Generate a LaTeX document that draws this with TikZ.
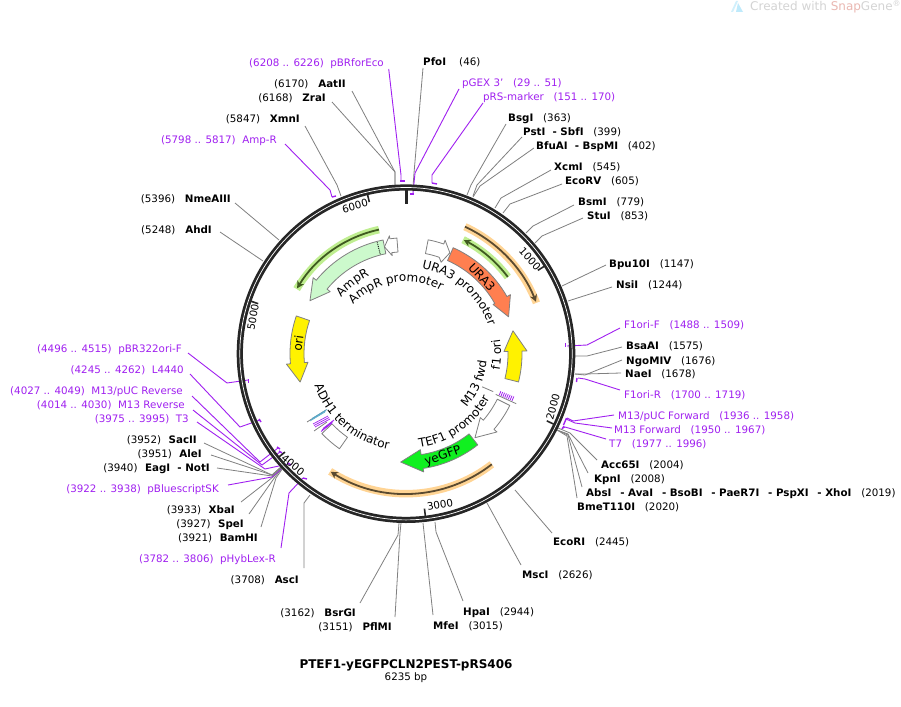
\documentclass[tikz,border=0pt]{standalone}
\usepackage{fontspec}
\setmainfont{DejaVu Sans}
\usetikzlibrary{decorations.text,arrows.meta}
\definecolor{pl}{HTML}{A020F0}
\definecolor{gl}{HTML}{808080}
\definecolor{ringc}{HTML}{262626}
\definecolor{uracol}{HTML}{FF7F50}
\definecolor{ampcol}{HTML}{CCF9CC}
\definecolor{gfpcol}{HTML}{10F020}
\definecolor{halog}{HTML}{BFEE90}
\definecolor{haloo}{HTML}{FFD494}
\definecolor{coreo}{HTML}{5A4A30}
\definecolor{coreg}{HTML}{3F5A20}
\definecolor{wmgray}{HTML}{D4D4D4}
\definecolor{wmred}{HTML}{EAB8B2}
\def\lfont{\fontsize{10.3}{12}\selectfont}
\def\ctext{\fontsize{12}{14}\selectfont}
\tikzset{x=1pt,y=1pt,
 lb/.style={inner sep=0pt,text height=9.6pt,text depth=0.4pt,font=\lfont},
 rl/.style={lb,anchor=west},
 ll/.style={lb,anchor=east},
 pt/.style={text=pl},
 gline/.style={draw=gl,line width=0.8pt},
 pline/.style={draw=pl,line width=0.9pt},
 ptick/.style={draw=pl,line width=1.4pt},
 feat/.style={draw=gl,line width=0.8pt,line join=round},
 tk/.style={draw=ringc,line width=1.6pt},
 num/.style={inner sep=0pt,font=\lfont},
 halo/.style={line width=7.5pt},
 core/.style={line width=1.8pt,-{Stealth[length=7pt,width=7.5pt]}},
}
% right-hand and left-hand labels
\newcommand{\rlab}[4]{\node[rl] (#1) at (#2,-#3) {\textbf{#1}#4};}
\newcommand{\rnam}[5]{\node[rl] (#1) at (#2,-#3) {\textbf{#4}#5};}
\newcommand{\llab}[4]{\node[ll] (#1) at (#2,-#3) {#4\textbf{#1}};}
\newcommand{\lnam}[5]{\node[ll] (#1) at (#2,-#3) {#5\textbf{#4}};}
\newcommand{\prl}[4]{\node[rl,pt] (#1) at (#2,-#3) {#4};}
\newcommand{\pll}[4]{\node[ll,pt] (#1) at (#2,-#3) {#4};}
\newcommand{\conn}[5]{\coordinate (#2-a) at #3;\coordinate (#2-b) at #4;\coordinate (#2-c) at #5;
  \draw[#1] (#2-a) -- (#2-b) -- (#2-c);}
\newcommand{\connb}[4]{\coordinate (#2-a) at #3;\coordinate (#2-c) at #4;
  \draw[#1] (#2-a) -- (#2-c);}
\newcommand{\curved}[4]{\path[decorate,decoration={text along path,text align=center,text={|\ctext|#4}}] (#2:#1) arc[start angle=#2,end angle=#3,radius=#1];}
\begin{document}
\begin{tikzpicture}
\useasboundingbox (0,0) rectangle (901,-706);
\fill[white] (0,0) rectangle (901,-706);
% watermark
\fill[cyan!18] (731,-12) -- (736,-1) -- (738,-1) -- (733,-12) -- cycle;
\fill[cyan!25] (736,-12) -- (738,-3) -- (743,-12) -- cycle;
\node[inner sep=0pt,anchor=west,font=\fontsize{12}{14}\selectfont,text=wmgray] (wm) at (750,-7) {Created with \textcolor{wmred}{Snap}Gene\textsuperscript{®}};
% leaders and labels, clockwise from the top
\rlab{PfoI}{423}{61}{\ \ \ \ (46)}
\conn{gline}{PfoI}{(423,-68)}{(414,-173)}{(413,-187)}
\prl{pGEX}{462}{82}{pGEX 3'\ \ \ (29 .. 51)}
\conn{pline}{pGEX}{(459,-89)}{(415,-173)}{(413,-193)}
\draw[ptick] (410,-194) -- (414,-194);
\prl{pRS}{483}{96}{pRS-marker\ \ \ (151 .. 170)}
\conn{pline}{pRS}{(483,-103)}{(432,-175)}{(432,-183)}
\draw[ptick] (432,-183) -- (437,-184);
\rlab{BsgI}{508}{117}{\ \ \ (363)}
\conn{gline}{BsgI}{(506,-124)}{(471,-185)}{(467,-195)}
\rnam{PstI}{523}{131}{PstI\ \ - SbfI}{\ \ \ (399)}
\conn{gline}{PstI}{(522,-137)}{(477,-185)}{(473,-196)}
\rnam{BfuAI}{536}{145}{BfuAI\ \ - BspMI}{\ \ \ (402)}
\conn{gline}{BfuAI}{(534,-148)}{(480,-186)}{(473,-197)}
\rlab{XcmI}{554}{166}{\ \ \ (545)}
\conn{gline}{XcmI}{(551,-170)}{(501,-198)}{(495,-208)}
\rlab{EcoRV}{565}{180}{\ \ \ (605)}
\conn{gline}{EcoRV}{(562,-184)}{(510,-204)}{(503,-213)}
\rlab{BsmI}{578}{201}{\ \ \ (779)}
\conn{gline}{BsmI}{(574,-205)}{(533,-226)}{(526,-233)}
\rlab{StuI}{587}{215}{\ \ \ (853)}
\conn{gline}{StuI}{(583,-218)}{(542,-236)}{(535,-243)}
\rlab{Bpu10I}{609}{263}{\ \ \ (1147)}
\connb{gline}{Bpu10I}{(606,-265)}{(562,-286)}
\rlab{NsiI}{616}{284}{\ \ \ (1244)}
\connb{gline}{NsiI}{(612,-287)}{(568,-301)}
\prl{F1oriF}{624}{324}{F1ori-F\ \ \ (1488 .. 1509)}
\conn{pline}{F1oriF}{(620,-328)}{(587,-345)}{(567,-346)}
\draw[ptick] (565.5,-343) -- (565.5,-346.5);
\rlab{BsaAI}{626}{345}{\ \ \ (1575)}
\conn{gline}{BsaAI}{(622,-347)}{(587,-356)}{(575,-356)}
\rlab{NgoMIV}{626}{360}{\ \ \ (1676)}
\conn{gline}{NgoMIV}{(622,-360)}{(585,-375)}{(575,-374)}
\rlab{NaeI}{625}{373}{\ \ \ (1678)}
\conn{gline}{NaeI}{(621,-373)}{(585,-374)}{(575,-374)}
\prl{F1oriR}{624}{394}{F1ori-R\ \ \ (1700 .. 1719)}
\conn{pline}{F1oriR}{(620,-390)}{(585,-379)}{(578,-378)}
\draw[ptick] (577,-378) -- (576.5,-382);
\prl{M13pF}{618}{415}{M13/pUC Forward\ \ \ (1936 .. 1958)}
\conn{pline}{M13pF}{(614,-415)}{(573,-421)}{(567,-418)}
\prl{M13F}{614}{429}{M13 Forward\ \ \ (1950 .. 1967)}
\conn{pline}{M13F}{(612,-428)}{(575,-423)}{(566,-419)}
\draw[ptick] (566.5,-418) -- (563.5,-425);
\prl{T7}{609}{443}{T7\ \ \ (1977 .. 1996)}
\conn{pline}{T7}{(606,-439)}{(565,-427)}{(563,-428)}
\draw[ptick] (564,-426) -- (562,-429);
\rlab{Acc65I}{601}{464}{\ \ \ (2004)}
\conn{gline}{Acc65I}{(597,-460)}{(570,-433)}{(558,-428)}
\rlab{KpnI}{594}{478}{\ \ \ (2008)}
\conn{gline}{KpnI}{(588,-473)}{(568,-434)}{(557,-430)}
\rnam{AbsI}{586}{492}{AbsI\ \ \hspace{1.6pt}- AvaI\ \ \hspace{1.6pt}- BsoBI\ \ \hspace{1.6pt}- PaeR7I\ \ \hspace{1.6pt}- PspXI\ \ \hspace{1.6pt}- XhoI}{\ \ \ (2019)}
\conn{gline}{AbsI}{(582,-487)}{(568,-435)}{(557,-430)}
\rlab{BmeT110I}{577}{506}{\ \ \ (2020)}
\conn{gline}{BmeT110I}{(577,-498)}{(567,-436)}{(557,-430)}
\rlab{EcoRI}{553}{541}{\ \ \ (2445)}
\connb{gline}{EcoRI}{(552,-533)}{(515,-490)}
\rlab{MscI}{522}{574}{\ \ \ (2626)}
\connb{gline}{MscI}{(521,-565)}{(487,-503)}
\rlab{HpaI}{463}{611}{\ \ \ (2944)}
\conn{gline}{HpaI}{(463,-601)}{(436,-532)}{(435,-522)}
\rlab{MfeI}{433}{625}{\ \ \ (3015)}
\connb{gline}{MfeI}{(433,-615)}{(423,-523)}
\llab{PflMI}{392}{626}{(3151)\ \ \ }
\conn{gline}{PflMI}{(395,-617)}{(400,-533)}{(401,-523)}
\llab{BsrGI}{356}{612}{(3162)\ \ \ }
\conn{gline}{BsrGI}{(360,-603)}{(398,-535)}{(399,-523)}
\llab{AscI}{299}{579}{(3708)\ \ \ }
\conn{gline}{AscI}{(304,-568)}{(304,-503)}{(310,-495)}
\pll{pHyb}{276}{558}{(3782 .. 3806)\ \ pHybLex-R}
\conn{pline}{pHyb}{(281,-548)}{(289,-493)}{(303,-478)}
\draw[ptick] (303,-478) -- (307,-479);
\llab{BamHI}{258}{537}{(3921)\ \ \hspace{1pt}}
\conn{gline}{BamHI}{(261,-527)}{(276,-478)}{(283,-468)}
\llab{SpeI}{244}{523}{(3927)\ \ \hspace{1pt}}
\conn{gline}{SpeI}{(249,-514)}{(275,-477)}{(282,-468)}
\llab{XbaI}{235}{509}{(3933)\ \ \hspace{1pt}}
\conn{gline}{XbaI}{(241,-502)}{(273,-477)}{(282,-468)}
\pll{pBS}{219}{488}{(3922 .. 3938)\ \ pBluescriptSK}
\conn{pline}{pBS}{(228,-485)}{(272,-477)}{(281,-469)}
\lnam{EagI}{210}{467}{EagI\ \ - NotI}{(3940)\ \ \hspace{1pt}}
\conn{gline}{EagI}{(217,-468)}{(272,-476)}{(281,-468)}
\llab{AleI}{202}{453}{(3951)\ \ \hspace{1pt}}
\conn{gline}{AleI}{(211,-455)}{(272,-475)}{(281,-467)}
\llab{SacII}{197}{439}{(3952)\ \ \hspace{1pt}}
\conn{gline}{SacII}{(204,-443)}{(272,-475)}{(281,-467)}
\pll{T3}{189}{418}{(3975 .. 3995)\ \ T3}
\conn{pline}{T3}{(197,-422)}{(265,-469)}{(288,-464)}
\draw[ptick] (288,-463) -- (291,-465);
\pll{M13R}{185}{404}{(4014 .. 4030)\ \ M13 Reverse}
\conn{pline}{M13R}{(193,-410)}{(262,-465)}{(280,-452)}
\draw[ptick] (279,-451) -- (282,-453);
\pll{M13pR}{183}{390}{(4027 .. 4049)\ \ M13/pUC Reverse}
\conn{pline}{M13pR}{(192,-396)}{(260,-462)}{(278,-448)}
\draw[ptick] (277,-447) -- (280,-449);
\pll{L4440}{184}{369}{(4245 .. 4262)\ \ L4440}
\conn{pline}{L4440}{(190,-374)}{(240,-427)}{(260,-420)}
\draw[ptick] (259,-419) -- (261,-422);
\pll{pBR}{182}{348}{(4496 .. 4515)\ \ pBR322ori-F}
\conn{pline}{pBR}{(188,-353)}{(227,-383)}{(248,-380)}
\draw[ptick] (248.5,-379) -- (248.5,-383);
\llab{AhdI}{212}{229}{(5248)\ \ \ }
\connb{gline}{AhdI}{(220,-232)}{(263,-261)}
\llab{NmeAIII}{231}{198}{(5396)\ \ \ }
\connb{gline}{NmeAIII}{(235,-203)}{(279,-240)}
\pll{AmpRp}{277}{139}{(5798 .. 5817)\ \ Amp-R}
\conn{pline}{AmpRp}{(285,-144)}{(330,-190)}{(332,-197)}
\draw[ptick] (332,-197) -- (336,-196);
\llab{XmnI}{300}{118}{(5847)\ \ \ }
\conn{gline}{XmnI}{(305,-126)}{(337,-185)}{(341,-196)}
\llab{ZraI}{326}{97}{(6168)\ \ \ }
\conn{gline}{ZraI}{(332,-102)}{(395,-172)}{(395,-185)}
\llab{AatII}{346}{83}{(6170)\ \ \ }
\conn{gline}{AatII}{(352,-91)}{(395,-172)}{(395,-185)}
\pll{pBRf}{384}{62}{(6208 .. 6226)\ \ pBRforEco}
\conn{pline}{pBRf}{(388.7,-69)}{(401,-175)}{(401,-181)}
\draw[ptick] (400,-181) -- (405,-181);
% everything on the circle
\begin{scope}[shift={(406,-353.7)}]
 \draw[ringc,line width=6.2pt] (0,0) circle[radius=166.2];
 \draw[white,line width=0.7pt] (0,0) circle[radius=166.2];
 \draw[ringc,line width=3pt] (90:164) -- (90:150);
 \foreach \a in {32.3,-25.5,-83.2,-140.9,-198.7,-256.4}{\draw[tk] (\a:164) -- (\a:156);}
 % orange and green strands
 \draw[haloo,halo] (65.1:140) arc[start angle=65.1,end angle=21.3,radius=140];
 \draw[coreo,core] (65.1:140) arc[start angle=65.1,end angle=21.8,radius=140];
 \draw[halog,halo] (37:127.5) arc[start angle=37,end angle=63.4,radius=127.5];
 \draw[coreg,core] (37:127.5) arc[start angle=37,end angle=63,radius=127.5];
 \draw[haloo,halo] (-52.2:140) arc[start angle=-52.2,end angle=-122.8,radius=140];
 \draw[coreo,core] (-52.2:140) arc[start angle=-52.2,end angle=-122.5,radius=140];
 \draw[halog,halo] (102.3:127) arc[start angle=102.3,end angle=149.4,radius=127];
 \draw[coreg,core] (102.3:127) arc[start angle=102.3,end angle=149,radius=127];
 % URA3 promoter then URA3
 \draw[feat,fill=white] (79:116) arc[start angle=79,end angle=71,radius=116] -- (71:120) -- (66.5:110) -- (69:98) -- (71:102) arc[start angle=71,end angle=79,radius=102] -- cycle;
 \draw[feat,fill=uracol] (66:116) arc[start angle=66,end angle=29.5,radius=116] -- (29.5:120) -- (19.8:109) -- (29.5:100) -- (29.5:102) arc[start angle=29.5,end angle=66,radius=102] -- cycle;
 % AmpR promoter then AmpR
 \draw[feat,fill=white] (94.5:102) -- (94.5:116) arc[start angle=94.5,end angle=98,radius=116] -- (98:119) -- (101.4:109) -- (98:99) -- (98:102) arc[start angle=98,end angle=94.5,radius=102];
 \draw[feat,fill=ampcol] (101.4:116) arc[start angle=101.4,end angle=140.7,radius=116] -- (140.7:120) -- (151.1:109.7) -- (140.7:98) -- (140.7:102) arc[start angle=140.7,end angle=101.4,radius=102] -- cycle;
 \draw[densely dotted,line width=0.9pt] (104.5:115) -- (104.5:102);
 % ori
 \draw[feat,fill=yellow] (161:116) arc[start angle=161,end angle=185,radius=116] -- (185:120) -- (195:109.6) -- (185:98.4) -- (185:102) arc[start angle=185,end angle=161,radius=102] -- cycle;
 % f1 ori
 \draw[feat,fill=yellow] (-14.1:116) arc[start angle=-14.1,end angle=1.3,radius=116] -- (1.3:121) -- (12.1:109.4) -- (1.3:98) -- (1.3:102) arc[start angle=1.3,end angle=-14.1,radius=102] -- cycle;
 % TEF1 promoter
 \draw[feat,fill=white] (-26.5:116) arc[start angle=-26.5,end angle=-40.7,radius=116] -- (-40.7:120) -- (-50.6:108.7) -- (-40.7:98) -- (-40.7:102) arc[start angle=-40.7,end angle=-26.5,radius=102] -- cycle;
 % yeGFP
 \draw[feat,fill=gfpcol] (-51.8:116) arc[start angle=-51.8,end angle=-81.5,radius=116] -- (-81.5:119.5) -- (-92.8:108.5) -- (-81.5:97) -- (-81.5:102) arc[start angle=-81.5,end angle=-51.8,radius=102] -- cycle;
 % M13 fwd primer
 \draw[gline] (-24.4:98.5) -- (-24.4:121);
 \draw[gline] (-23.5:83) -- (-23.5:95);
 \foreach \r in {102,104,106,108,110,112,114,116}{\draw[pl,line width=0.8pt] (-24:\r) arc[start angle=-24,end angle=-21.6,radius=\r];}
 % ADH1 terminator
 \draw[feat,fill=white] (223.5:102) arc[start angle=223.5,end angle=235,radius=102] -- (235:116) arc[start angle=235,end angle=223.5,radius=116] -- cycle;
\end{scope}
% primer stacks by ADH1 terminator
\draw[gline] (307,-422) -- (326,-410);
\foreach \k in {0,1,2}{\draw[cyan!60!gl,line width=0.6pt] (310+\k,-421+1.3*\k) -- (325+\k,-412+1.3*\k);}
\foreach \k in {0,1,2}{\draw[pl,line width=0.7pt] (313+\k,-424-1.5*\k) -- (328+\k,-416-1.5*\k);}
\draw[gline] (314,-431) -- (327,-422);
\foreach \k in {0,1,2}{\draw[pl,line width=0.8pt] (321+\k,-431.5+1.5*\k) -- (332+\k,-423+1.5*\k);}
% feature names
\begin{scope}[shift={(406,-353.7)}]
 \curved{87}{80}{18}{URA3 promoter}
 \curved{72}{136}{62}{AmpR promoter}
 \curved{86}{139}{115}{AmpR}
 \curved{97}{198}{261}{ADH1 terminator}
 \curved{95}{-85}{-25}{TEF1 promoter}
 \curved{81}{-41}{-6}{M13 fwd}
 \curved{95}{-11}{10}{f1 ori}
\end{scope}
\node[inner sep=0pt,rotate=-47,font=\ctext] (nURA3) at (482,-277) {URA3};
\node[inner sep=0pt,rotate=82,font=\ctext] (nori) at (298,-343) {ori};
\node[inner sep=0pt,rotate=20,font=\ctext] (nGFP) at (443,-456) {yeGFP};
% scale numbers
\node[num,rotate=-48] (t1000) at (530,-259) {1000};
\node[num,rotate=75] (t2000) at (553,-407) {2000};
\node[num,rotate=10] (t3000) at (440,-505) {3000};
\node[num,rotate=-40] (t4000) at (293,-465) {4000};
\node[num,rotate=80] (t5000) at (253,-317) {5000};
\node[num,rotate=15] (t6000) at (355,-206) {6000};
% title
\node[inner sep=0pt,font=\fontsize{12}{14}\selectfont\bfseries] (title) at (406,-665.5) {PTEF1-yEGFPCLN2PEST-pRS406};
\node[inner sep=0pt,font=\lfont] (bp) at (406,-678) {6235 bp};
\end{tikzpicture}
\end{document}
